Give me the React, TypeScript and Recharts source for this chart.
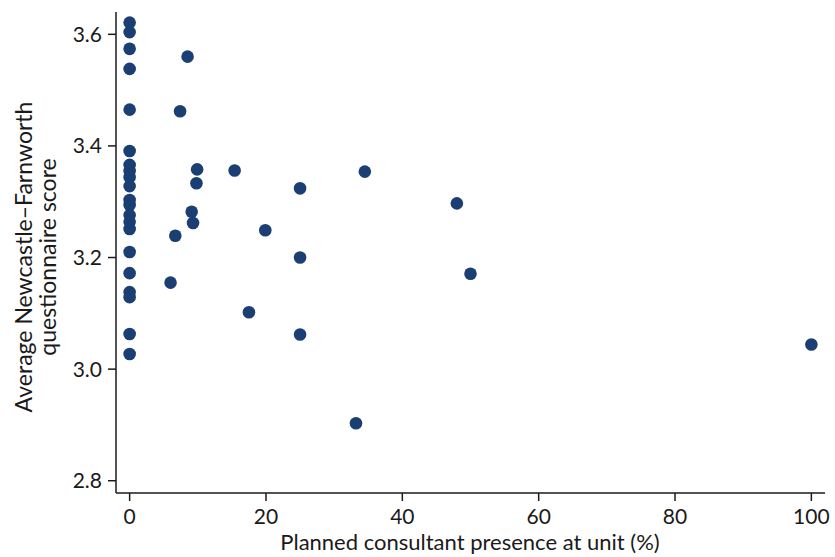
import React from 'react';
import { ScatterChart, Scatter, XAxis, YAxis } from 'recharts';

// planned consultant presence (%) and average NFQ score per unit
const presence = [
    0, 0, 0, 0, 0, 0, 0, 0, 0, 0, 0, 0, 0, 0, 0, 0, 0, 0, 0, 0, 0,
    8.5, 7.4, 9.9, 9.8, 15.4, 25, 9.1, 9.3, 6.7, 19.9, 25, 6.0, 17.5, 25, 33.2, 48, 50, 100, 34.5,
];
const score = [
    3.621, 3.604, 3.574, 3.538, 3.465, 3.391, 3.366, 3.355, 3.344, 3.328, 3.303,
    3.294, 3.276, 3.264, 3.251, 3.210, 3.172, 3.138, 3.129, 3.063, 3.027,
    3.560, 3.462, 3.358, 3.333, 3.356, 3.324, 3.282, 3.262, 3.239, 3.249, 3.200,
    3.155, 3.102, 3.062, 2.903, 3.297, 3.171, 3.044, 3.354,
];
const xTicks = [0, 20, 40, 60, 80, 100];
const yTicks = [2.8, 3.0, 3.2, 3.4, 3.6];

const points = presence.map((p, i) => ({ x: p, y: score[i] }));

const FONT = 'Lato, sans-serif';
const DOT = '#1b3e73';
const INK = '#1a1a1a';

const Dot = (props: any) => <circle cx={props.cx} cy={props.cy} r={6.3} fill={DOT} />;

const YLabel = (props: any) => {
    const cy = 257;
    return (
        <g fontFamily={FONT} fontSize={23} fill={INK}>
            <text x={32} y={cy} transform={`rotate(-90 32 ${cy})`} textAnchor="middle">
                Average Newcastle–Farnworth
            </text>
            <text x={56} y={cy} transform={`rotate(-90 56 ${cy})`} textAnchor="middle">
                questionnaire score
            </text>
        </g>
    );
};

const XLabel = (props: any) => (
    <text x={470} y={550} textAnchor="middle" fontFamily={FONT} fontSize={22} fill={INK}>
        Planned consultant presence at unit (%)
    </text>
);

export default function App() {
    return (
        <div style={{ position: 'absolute', left: 0, top: 0, width: 835, height: 557, background: '#fff' }}>
            <ScatterChart width={835} height={557} margin={{ top: 12, right: 10, bottom: 0, left: 0 }}>
                <XAxis
                    type="number"
                    dataKey="x"
                    domain={[-2, 102]}
                    ticks={xTicks}
                    allowDataOverflow
                    height={64}
                    tickSize={8}
                    tickMargin={8}
                    stroke={INK}
                    strokeWidth={1.5}
                    tick={{ fill: INK, fontSize: 21, fontFamily: FONT }}
                    label={<XLabel />}
                />
                <YAxis
                    type="number"
                    dataKey="y"
                    domain={[2.778, 3.64]}
                    ticks={yTicks}
                    allowDataOverflow
                    width={116}
                    tickSize={8}
                    tickMargin={6}
                    stroke={INK}
                    strokeWidth={1.5}
                    tickFormatter={(v: number) => v.toFixed(1)}
                    tick={{ fill: INK, fontSize: 21, fontFamily: FONT }}
                    label={<YLabel />}
                />
                <Scatter data={points} shape={<Dot />} isAnimationActive={false} />
            </ScatterChart>
        </div>
    );
}
